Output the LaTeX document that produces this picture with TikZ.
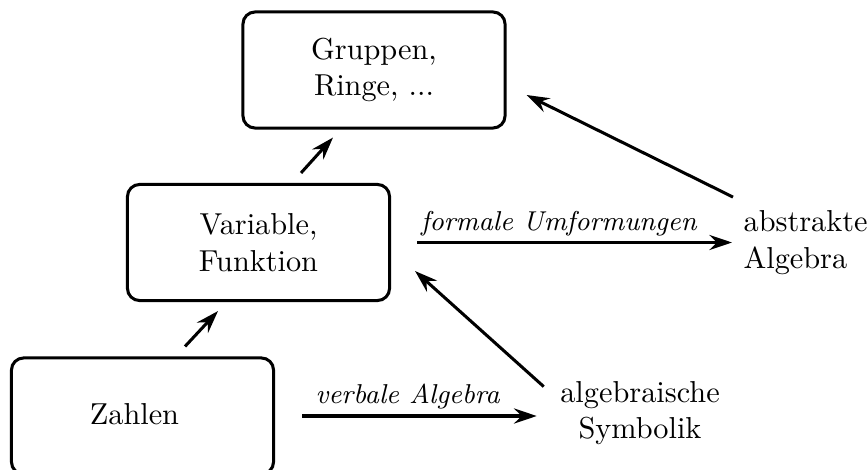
\documentclass[tikz,border=0pt]{standalone}
\usetikzlibrary{arrows.meta,calc}
\begin{document}
\begin{tikzpicture}[x=0.33pt,y=-0.33pt,
  box/.style={draw,line width=1pt,rounded corners=4pt,minimum width=86.5pt,minimum height=38.3pt,align=center,inner sep=0pt},
  txt/.style={inner sep=0pt},
  arr/.style={line width=1pt,-{Stealth[length=7.5pt,width=5pt,inset=2.5pt]}},
  lbl/.style={pos=0.45,anchor=base,yshift=4pt,inner sep=0pt,font=\small\itshape}]
\useasboundingbox (0,0) rectangle (868,470);
\node[box] (G) at (374,70) {Gruppen,\\Ringe, ...};
\node[box] (V) at (258.5,242.5) {Variable,\\Funktion};
\node[box] (Z) at (142.5,416) {\raisebox{1.3pt}{Zahlen}\hspace{5.3pt}};
\node[txt,align=left,anchor=west] (abs) at (743,242.5) {abstrakte\\Algebra};
\node[txt,align=center] (alg) at (640,413) {algebraische\\Symbolik};
\draw[arr] ($(Z.north)+(42.5,-10)$) -- ($(V.south)+(-40.5,9)$);
\draw[arr] ($(V.north)+(42.5,-10)$) -- ($(G.south)+(-41,8)$);
\draw[arr] ($(V.east)+(26,0)$) -- node[lbl] {formale Umformungen} ($(abs.west)+(-11,0)$);
\draw[arr] ($(Z.east)+(27,0)$) -- node[lbl] {verbale Algebra} ($(alg.west)+(-23,3)$);
\draw[arr] ($(alg.north west)+(-16,6)$) -- ($(V.south east)+(24,-31)$);
\draw[arr] ($(abs.north west)+(-10,-13)$) -- ($(G.east)+(20,25)$);
\end{tikzpicture}
\end{document}
